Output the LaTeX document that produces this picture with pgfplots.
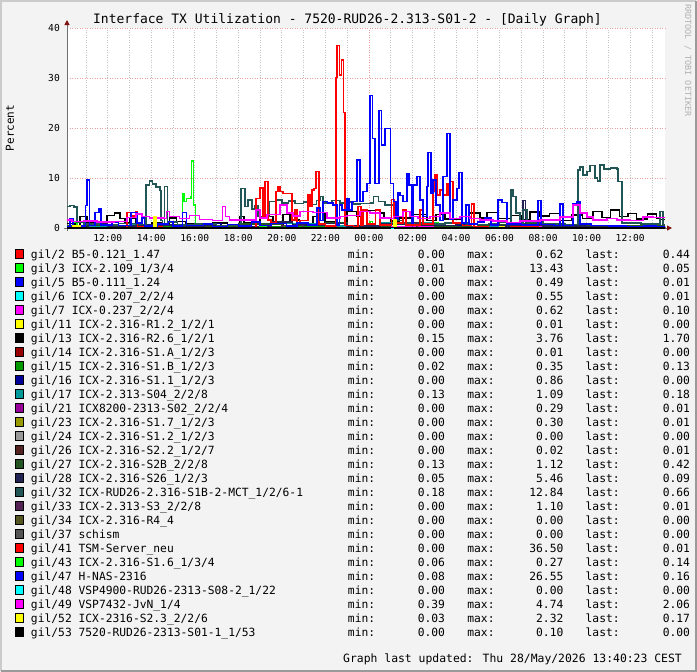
\documentclass[border=0pt]{standalone}
\usepackage{fontspec}
\setmainfont{DejaVu Sans Mono}
\usepackage{pgfplots}
\pgfplotsset{compat=1.18}
\usetikzlibrary{arrows.meta}
\definecolor{bgc}{HTML}{F3F3F3}
\definecolor{frameL}{HTML}{CBCBCB}
\definecolor{frameD}{HTML}{9A9A9A}
\definecolor{gridgray}{HTML}{C4C4C4}
\definecolor{gridred}{HTML}{EBA0A0}
\definecolor{axisgray}{HTML}{707070}
\definecolor{arrowred}{HTML}{801010}
\definecolor{c2}{HTML}{FF0000}
\definecolor{c3}{HTML}{00FF00}
\definecolor{c5}{HTML}{0000FF}
\definecolor{c6}{HTML}{00FFFF}
\definecolor{c7}{HTML}{FF00FF}
\definecolor{c11}{HTML}{FFFF00}
\definecolor{c13}{HTML}{000000}
\definecolor{c14}{HTML}{990000}
\definecolor{c15}{HTML}{009900}
\definecolor{c16}{HTML}{000099}
\definecolor{c17}{HTML}{009999}
\definecolor{c21}{HTML}{990099}
\definecolor{c23}{HTML}{999900}
\definecolor{c24}{HTML}{999999}
\definecolor{c26}{HTML}{552222}
\definecolor{c27}{HTML}{225522}
\definecolor{c28}{HTML}{222255}
\definecolor{c32}{HTML}{225555}
\definecolor{c33}{HTML}{552255}
\definecolor{c34}{HTML}{555522}
\definecolor{c37}{HTML}{555555}
\newcommand\LE[4]{\makebox[317bp][l]{#1}\makebox[97bp]{min:\hfill#2}\hspace{22.4bp}\makebox[96bp]{max:\hfill#3}\hspace{22.3bp}\makebox[104.3bp]{last:\hfill#4}}
\begin{document}
\begin{tikzpicture}
\fill[bgc] (0bp,0bp) rectangle (697bp,-672bp);
\draw[line width=2bp, frameL] (1bp,-671bp) -- (1bp,-1bp) -- (696bp,-1bp);
\draw[line width=2bp, frameD] (1bp,-671bp) -- (696bp,-671bp) -- (696bp,-1bp);
\node[font=\fontsize{13bp}{15bp}\selectfont, inner sep=0pt] at (347.5bp,-19.5bp) {Interface TX Utilization - 7520-RUD26-2.313-S01-2 - [Daily Graph]};
\node[rotate=90, font=\fontsize{11bp}{13bp}\selectfont, inner sep=0pt] at (10bp,-128bp) {Percent};
\node[rotate=-90, anchor=west, font=\fontsize{8.5bp}{10bp}\selectfont, text=black!30, inner sep=0pt] at (688bp,-4bp) {RRDTOOL / TOBI OETIKER};
\node[anchor=base east, font=\fontsize{11.4bp}{13bp}\selectfont, inner sep=0pt] at (682bp,-662bp) {Graph last updated: Thu 28/May/2026 13:40:23 CEST};
\begin{axis}[name=ax,
  at={(67bp,-228bp)}, anchor=south west,
  scale only axis, width=598bp, height=200bp,
  xmin=10.13, xmax=37.6, ymin=0, ymax=40,
  clip mode=individual,
  axis background/.style={fill=white},
  axis line style={draw=none},
  tick style={draw=none},
  const plot,
  every axis plot/.append style={line width=1.4bp, mark=none, line join=miter},
  xtick={12,14,...,36},
  xticklabels={12:00,14:00,16:00,18:00,20:00,22:00,00:00,02:00,04:00,06:00,08:00,10:00,12:00},
  minor xtick={11,12,...,37},
  xminorgrids=true, xmajorgrids=false,
  minor grid style={color=gridgray, dash pattern=on 1bp off 1.5bp, line width=0.8bp},
  major grid style={color=gridred, dash pattern=on 1bp off 1.5bp, line width=0.8bp},
  extra x ticks={24}, extra x tick labels={}, extra x tick style={grid=major},
  ytick={0,10,20,30,40}, ymajorgrids=true,
  /pgf/number format/assume math mode=true,
  ticklabel style={font=\fontsize{9.6bp}{11bp}\selectfont, inner sep=0pt},
  xticklabel style={anchor=center, yshift=-9.5bp},
  yticklabel style={anchor=east, xshift=-7bp},
  legend cell align=left,
  legend style={at={(-0.08696,-0.095)}, anchor=north west, draw=none, fill=none,
    inner sep=0pt, outer sep=0pt, row sep=0pt, column sep=7bp,
    font=\fontsize{11.3bp}{14bp}\selectfont,
    nodes={inner sep=0pt, text height=11.1bp, text depth=2.9bp}},
  legend image code/.code={\draw[#1, fill, draw=black, line width=0.5bp] (0bp,-4.5bp) rectangle (8.5bp,4.5bp);},
]
\draw[axisgray, line width=1bp, -{Triangle[length=5bp,width=5bp,color=arrowred]}] ([xshift=-3bp]rel axis cs:0,0) -- ([xshift=7bp]rel axis cs:1,0);
\draw[axisgray, line width=1bp, -{Triangle[length=5bp,width=5bp,color=arrowred]}] ([yshift=-3bp]rel axis cs:0,0) -- ([yshift=8bp]rel axis cs:0,1);
\addplot[color=c2] coordinates {(10.13,0.2) (15,0.6) (15.2,0.1) (30,0.3) (37.5,0.44) (37.6,0.44)};
\addlegendentry{\LE{gil/2 B5-0.121\_1.47}{0.00}{0.62}{0.44}}
\addplot[color=c3] coordinates {(10.13,0.1) (10.41,1.0) (10.59,0.1) (15.44,6.9) (15.50,5.3) (15.62,5.9) (15.82,6.3) (15.85,13.43) (15.95,4.6) (16.03,0.1) (24.05,1.3) (24.17,0.1) (26.15,1.0) (26.25,0.1) (27.03,1.1) (27.17,0.1) (37.6,0.05)};
\addlegendentry{\LE{gil/3 ICX-2.109\_1/3/4}{0.01}{13.43}{0.05}}
\addplot[color=c5] coordinates {(10.13,0.1) (20,0.49) (20.2,0.1) (37.6,0.01)};
\addlegendentry{\LE{gil/5 B5-0.111\_1.24}{0.00}{0.49}{0.01}}
\addplot[color=c6] coordinates {(10.13,0.1) (24,0.55) (24.2,0.05) (37.6,0.01)};
\addlegendentry{\LE{gil/6 ICX-0.207\_2/2/4}{0.00}{0.55}{0.01}}
\addplot[color=c7] coordinates {(10.13,0.2) (18,0.62) (18.3,0.2) (37.6,0.1)};
\addlegendentry{\LE{gil/7 ICX-0.237\_2/2/4}{0.00}{0.62}{0.10}}
\addplot[color=c11] coordinates {(10.13,0) (37.6,0)};
\addlegendentry{\LE{gil/11 ICX-2.316-R1.2\_1/2/1}{0.00}{0.01}{0.00}}
\addplot[color=c13] coordinates {(10.13,0.9) (10.5,0.5) (10.73,2.3) (11.04,1.2) (11.65,0.8) (11.97,2.5) (12.3,3.0) (12.56,1.9) (12.79,1.0) (13.02,2.0) (13.3,0.6) (14.0,1.0) (14.5,0.4) (14.85,2.0) (15.17,1.3) (15.6,0.8) (16.2,0.5) (16.8,1.0) (17.5,0.6) (18.07,2.3) (18.26,1.0) (18.99,2.3) (19.59,0.8) (20.05,2.7) (20.37,1.6) (20.8,0.9) (21.43,2.3) (21.75,3.1) (21.98,1.2) (22.5,1.0) (22.99,3.3) (23.45,2.4) (23.72,3.5) (24.3,3.0) (24.7,2.1) (25.0,1.4) (25.4,2.0) (25.88,2.7) (26.66,1.5) (27.08,2.7) (27.49,1.8) (28.18,2.3) (28.59,3.0) (29.10,2.0) (29.42,3.1) (29.92,1.9) (30.5,2.5) (31.0,1.6) (31.4,3.2) (31.85,2.4) (32.3,2.9) (32.77,1.5) (33.3,2.6) (33.8,1.9) (34.3,3.3) (34.7,2.1) (35.1,3.6) (35.5,2.3) (35.9,2.9) (36.3,1.8) (36.8,2.8) (37.2,2.0) (37.4,1.7) (37.6,1.7)};
\addlegendentry{\LE{gil/13 ICX-2.316-R2.6\_1/2/1}{0.15}{3.76}{1.70}}
\addplot[color=c14] coordinates {(10.13,0) (37.6,0)};
\addlegendentry{\LE{gil/14 ICX-2.316-S1.A\_1/2/3}{0.00}{0.01}{0.00}}
\addplot[color=c15] coordinates {(10.13,0.2) (22,0.35) (22.5,0.1) (37.6,0.13)};
\addlegendentry{\LE{gil/15 ICX-2.316-S1.B\_1/2/3}{0.02}{0.35}{0.13}}
\addplot[color=c16] coordinates {(10.13,0.1) (17,0.86) (17.2,0.1) (28,0.4) (28.3,0.0) (37.6,0)};
\addlegendentry{\LE{gil/16 ICX-2.316-S1.1\_1/2/3}{0.00}{0.86}{0.00}}
\addplot[color=c17] coordinates {(10.13,0.3) (13,0.6) (16,0.2) (19,0.9) (22,0.4) (24.5,1.0) (27,0.3) (30,0.5) (33,0.2) (36,0.3) (37.6,0.18)};
\addlegendentry{\LE{gil/17 ICX-2.313-S04\_2/2/8}{0.13}{1.09}{0.18}}
\addplot[color=c21] coordinates {(10.13,0.05) (27,0.29) (27.3,0.05) (37.6,0.01)};
\addlegendentry{\LE{gil/21 ICX8200-2313-S02\_2/2/4}{0.00}{0.29}{0.01}}
\addplot[color=c23] coordinates {(10.13,0.05) (31,0.3) (31.2,0.05) (37.6,0.01)};
\addlegendentry{\LE{gil/23 ICX-2.316-S1.7\_1/2/3}{0.00}{0.30}{0.01}}
\addplot[color=c24] coordinates {(10.13,0) (37.6,0)};
\addlegendentry{\LE{gil/24 ICX-2.316-S1.2\_1/2/3}{0.00}{0.00}{0.00}}
\addplot[color=c26] coordinates {(10.13,0.01) (37.6,0.01)};
\addlegendentry{\LE{gil/26 ICX-2.316-S2.2\_1/2/7}{0.00}{0.02}{0.01}}
\addplot[color=c27] coordinates {(10.13,0.5) (12,0.3) (14,0.6) (16,0.4) (18,0.8) (20,0.5) (22,1.1) (23,0.4) (25,0.7) (27,0.3) (29,0.6) (31,0.9) (33,0.4) (35,0.5) (37,0.42) (37.6,0.42)};
\addlegendentry{\LE{gil/27 ICX-2.316-S2B\_2/2/8}{0.13}{1.12}{0.42}}
\addplot[color=c28] coordinates {(10.13,0.3) (11.1,0.8) (12.0,0.4) (13.5,0.6) (15.0,0.3) (16.5,0.5) (18.0,0.3) (19.5,1.2) (20.5,0.6) (22.0,0.9) (23.0,0.4) (24.5,0.8) (26.0,0.5) (28.0,0.7) (30.0,0.4) (31.07,5.46) (31.2,0.6) (32.0,0.4) (34.0,0.3) (36.0,0.2) (37.5,0.09) (37.6,0.09)};
\addlegendentry{\LE{gil/28 ICX-2.316-S26\_1/2/3}{0.05}{5.46}{0.09}}
\addplot[color=c32] coordinates {(10.13,4.3) (10.27,4.5) (10.45,4.2) (10.59,1.2) (10.92,0.8) (11.7,0.6) (12.5,0.9) (13.3,0.7) (13.75,8.6) (13.93,9.4) (14.07,8.8) (14.21,8.2) (14.40,7.5) (14.44,1.5) (14.53,0.8) (14.62,8.3) (14.75,1.2) (15.2,0.6) (16.0,0.8) (17.0,0.5) (18.12,7.9) (18.31,4.3) (18.45,5.6) (18.63,3.8) (18.75,4.5) (18.90,2.3) (19.41,5.3) (19.7,5.6) (20.0,5.0) (20.3,5.4) (20.6,4.9) (21.0,5.2) (21.3,4.7) (21.6,5.5) (21.75,6.3) (21.89,5.0) (22.3,5.5) (22.67,5.0) (23.0,5.2) (23.3,4.8) (23.59,4.9) (24.1,5.0) (24.2,6.3) (24.45,5.3) (24.73,4.6) (25.3,1.5) (25.6,1.0) (26.5,0.8) (27.5,1.0) (28.5,0.7) (29.5,0.9) (30.0,1.1) (30.52,7.6) (30.62,6.3) (30.75,3.0) (30.93,1.0) (31.07,3.6) (31.26,1.2) (32.0,0.8) (33.0,0.7) (33.60,11.6) (33.69,12.2) (33.83,10.6) (34.01,11.3) (34.15,12.5) (34.38,10.0) (34.50,9.4) (34.61,12.6) (34.80,11.8) (35.10,12.0) (35.39,11.8) (35.44,9.3) (35.63,1.0) (36.5,0.8) (37.37,3.3) (37.51,0.66) (37.60,0.66)};
\addlegendentry{\LE{gil/32 ICX-RUD26-2.316-S1B-2-MCT\_1/2/6-1}{0.18}{12.84}{0.66}}
\addplot[color=c33] coordinates {(10.13,0.1) (20,0.5) (21,0.1) (26,1.1) (26.2,0.1) (37.6,0.01)};
\addlegendentry{\LE{gil/33 ICX-2.313-S3\_2/2/8}{0.00}{1.10}{0.01}}
\addplot[color=c34] coordinates {(10.13,0) (37.6,0)};
\addlegendentry{\LE{gil/34 ICX-2.316-R4\_4}{0.00}{0.00}{0.00}}
\addplot[color=c37] coordinates {(10.13,0) (37.6,0)};
\addlegendentry{\LE{gil/37 schism}{0.00}{0.00}{0.00}}
\addplot[color=c2] coordinates {(10.13,0.0) (12.88,3.1) (13.07,2.4) (13.30,3.3) (13.38,0.3) (14.5,0.1) (18.81,5.9) (18.99,8.0) (19.13,2.3) (19.22,9.3) (19.36,1.6) (19.50,1.0) (19.73,7.3) (19.82,8.3) (19.91,7.3) (20.05,6.9) (20.46,1.6) (20.60,3.6) (20.69,1.0) (20.83,1.5) (21.20,6.6) (21.29,4.3) (21.38,7.6) (21.47,7.9) (21.57,11.3) (21.70,0.8) (22.00,0.4) (22.48,30.1) (22.54,36.5) (22.64,30.6) (22.73,33.6) (22.82,23.1) (22.90,0.5) (23.3,0.3) (23.49,4.3) (23.63,0.6) (23.72,3.6) (23.91,0.8) (24.3,3.6) (24.51,0.6) (25.04,5.7) (25.16,1.0) (25.56,3.6) (25.70,0.6) (26.34,3.6) (26.48,0.8) (26.94,7.3) (27.03,10.6) (27.12,6.6) (27.26,7.6) (27.40,6.6) (27.58,8.9) (27.68,6.6) (27.75,9.3) (27.86,1.0) (28.3,0.5) (28.72,4.8) (28.82,0.3) (29.5,0.1) (30.5,0.2) (31.8,0.1) (33.0,0.05) (37.6,0.01)};
\addlegendentry{\LE{gil/41 TSM-Server\_neu}{0.00}{36.50}{0.01}}
\addplot[color=c3] coordinates {(10.13,0.1) (19,0.27) (19.3,0.1) (37.6,0.14)};
\addlegendentry{\LE{gil/43 ICX-2.316-S1.6\_1/3/4}{0.06}{0.27}{0.14}}
\addplot[color=c5] coordinates {(10.13,0.3) (10.27,1.8) (10.41,0.4) (10.98,4.5) (11.04,9.6) (11.16,0.5) (11.42,3.1) (11.60,3.8) (11.70,0.6) (12.2,1.2) (12.5,0.5) (13.07,3.1) (13.34,1.0) (13.57,2.0) (13.70,0.4) (14.3,0.8) (14.8,1.3) (15.0,0.4) (15.44,3.1) (15.62,0.5) (16.4,0.8) (16.8,0.3) (17.5,0.7) (18.0,0.4) (18.6,1.2) (19.0,0.5) (19.5,0.9) (20.2,0.4) (20.7,1.0) (21.2,0.6) (21.61,4.0) (21.75,1.5) (21.89,5.3) (22.1,5.0) (22.35,4.6) (22.54,0.6) (22.64,4.6) (22.76,3.6) (22.99,5.8) (23.08,3.6) (23.22,5.3) (23.45,13.6) (23.59,5.3) (23.72,7.3) (23.91,8.9) (24.05,26.55) (24.17,17.9) (24.28,8.9) (24.47,23.5) (24.58,16.6) (24.73,19.9) (25.0,8.9) (25.12,5.3) (25.24,1.8) (25.33,7.0) (25.42,6.5) (25.56,5.3) (25.75,10.8) (25.84,8.6) (25.97,1.0) (26.02,8.6) (26.20,10.3) (26.34,5.6) (26.48,2.3) (26.66,8.3) (26.71,15.1) (26.85,7.0) (26.94,9.6) (27.08,4.6) (27.26,1.5) (27.40,10.3) (27.58,18.9) (27.72,1.8) (27.86,5.6) (28.04,7.9) (28.13,11.1) (28.27,1.0) (28.45,4.6) (28.59,0.8) (29.0,1.2) (29.3,2.0) (29.6,0.6) (29.92,5.6) (30.11,5.1) (30.34,0.8) (31.0,0.6) (31.76,5.5) (31.90,0.7) (32.5,0.5) (32.77,4.8) (32.91,0.5) (33.37,4.8) (33.55,5.2) (33.69,0.8) (34.2,0.5) (35.0,0.4) (35.8,0.3) (36.6,0.4) (37.2,0.2) (37.60,0.16)};
\addlegendentry{\LE{gil/47 H-NAS-2316}{0.08}{26.55}{0.16}}
\addplot[color=c6] coordinates {(10.13,0) (37.6,0)};
\addlegendentry{\LE{gil/48 VSP4900-RUD26-2313-S08-2\_1/22}{0.00}{0.00}{0.00}}
\addplot[color=c7] coordinates {(10.13,1.6) (10.36,1.3) (10.92,1.4) (11.5,1.2) (12.3,1.3) (12.88,2.1) (13.3,2.8) (13.57,2.3) (13.93,2.0) (14.6,1.9) (14.71,3.3) (14.85,2.3) (15.31,1.9) (15.77,2.5) (16.23,1.7) (16.82,1.5) (17.28,4.3) (17.41,2.3) (17.60,1.6) (18.6,1.6) (18.81,3.6) (18.99,2.0) (19.32,2.7) (19.91,4.6) (20.23,3.0) (20.51,2.4) (20.83,3.3) (21.43,3.1) (22.07,2.0) (22.67,2.3) (22.99,2.5) (23.59,3.3) (24.05,3.0) (24.51,2.0) (25.0,1.9) (25.12,2.3) (25.56,3.3) (25.88,2.3) (26.25,1.9) (26.80,2.3) (27.26,3.0) (27.72,1.9) (28.18,2.3) (28.65,1.9) (29.10,1.6) (29.69,1.4) (30.34,1.1) (30.93,1.4) (31.85,1.6) (32.77,2.2) (33.37,4.6) (33.69,3.0) (34.01,2.2) (34.29,1.6) (34.93,1.9) (35.39,1.6) (35.99,1.5) (36.59,2.2) (37.05,2.1) (37.40,2.06) (37.60,2.06)};
\addlegendentry{\LE{gil/49 VSP7432-JvN\_1/4}{0.39}{4.74}{2.06}}
\addplot[color=c11] coordinates {(10.13,0.15) (10.41,0.4) (10.73,0.15) (14.12,2.32) (14.22,0.15) (25.16,1.6) (25.24,0.15) (30.0,0.3) (30.2,0.15) (37.6,0.17)};
\addlegendentry{\LE{gil/52 ICX-2316-S2.3\_2/2/6}{0.03}{2.32}{0.17}}
\addplot[color=c13] coordinates {(10.13,0.02) (25,0.1) (25.2,0.02) (37.6,0)};
\addlegendentry{\LE{gil/53 7520-RUD26-2313-S01-1\_1/53}{0.00}{0.10}{0.00}}
\end{axis}
\end{tikzpicture}
\end{document}
